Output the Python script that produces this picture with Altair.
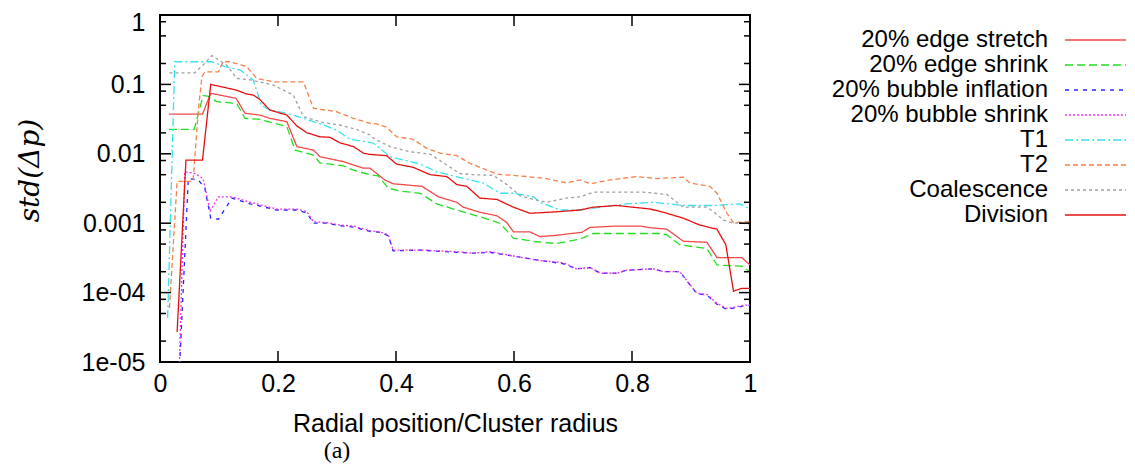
import altair as alt
import pandas as pd

SERIES = ["20% edge stretch", "20% edge shrink", "20% bubble inflation",
          "20% bubble shrink", "T1", "T2", "Coalescence", "Division"]
COLORS = ["#f24a4a", "#22dd22", "#2525ff", "#ee33ee", "#33e3ee", "#f7804a", "#a0a0a0", "#e41010"]
DASHES = [[1, 0], [8, 4], [4, 5], [2, 2], [8, 3, 2, 3], [5, 3], [3, 3], [1, 0]]

X_TICKS = [0, 0.2, 0.4, 0.6, 0.8, 1]
Y_TICKS = [1e-5, 1e-4, 1e-3, 1e-2, 1e-1, 1]
Y_TICK_LABELS = ["1e-05", "1e-04", "0.001", "0.01", "0.1", "1"]
Y_MINOR = [m * d for d in [1e-5, 1e-4, 1e-3, 1e-2, 1e-1] for m in (2, 5, 8)]
X_TITLE = "Radial position/Cluster radius"
Y_TITLE = "std(Δp)"

EDGE_STRETCH_X = [0.015, 0.072, 0.086, 0.129, 0.144, 0.169, 0.186, 0.215, 0.232, 0.260, 0.271, 0.311, 0.328,
                  0.345, 0.356, 0.381, 0.395, 0.444, 0.472, 0.503, 0.514, 0.542, 0.571, 0.588, 0.599, 0.627,
                  0.644, 0.672, 0.715, 0.729, 0.774, 0.814, 0.831, 0.859, 0.887, 0.927, 0.944, 0.986, 1.0]
EDGE_STRETCH_Y = [0.0374, 0.0374, 0.0744, 0.063, 0.0384, 0.0362, 0.0325, 0.029, 0.0127, 0.0113, 0.0091, 0.0077,
                  0.0069, 0.0062, 0.0062, 0.0042, 0.0037, 0.0034, 0.0024, 0.0020, 0.0017, 0.00144, 0.00128,
                  0.00102, 0.00075, 0.00075, 0.00064, 0.00067, 0.00074, 0.00087, 0.00091, 0.00091, 0.00086,
                  0.00082, 0.00055, 0.00053, 0.00032, 0.00032, 0.00025]

EDGE_SHRINK_X = [0.015, 0.058, 0.073, 0.081, 0.096, 0.130, 0.144, 0.169, 0.215, 0.229, 0.260, 0.271, 0.311,
                 0.328, 0.356, 0.370, 0.387, 0.407, 0.441, 0.469, 0.503, 0.542, 0.576, 0.599, 0.638, 0.672,
                 0.712, 0.734, 0.847, 0.859, 0.881, 0.927, 0.944, 0.986, 1.0]
EDGE_SHRINK_Y = [0.0225, 0.0225, 0.0687, 0.068, 0.0563, 0.0534, 0.0325, 0.0314, 0.0246, 0.0113, 0.0096, 0.0074,
                 0.0067, 0.0058, 0.0050, 0.0048, 0.0032, 0.0029, 0.0027, 0.0019, 0.00155, 0.00124, 0.001,
                 0.00061, 0.00054, 0.00051, 0.00059, 0.00071, 0.00071, 0.00068, 0.00049, 0.00043, 0.00025,
                 0.00024, 0.0002]

BUBBLE_INFL_X = [0.032, 0.048, 0.065, 0.076, 0.086, 0.099, 0.122, 0.153, 0.198, 0.232, 0.249, 0.260, 0.283,
                 0.305, 0.328, 0.356, 0.373, 0.387, 0.395, 0.441, 0.503, 0.531, 0.559, 0.605, 0.644, 0.684,
                 0.706, 0.729, 0.746, 0.774, 0.791, 0.836, 0.853, 0.881, 0.910, 0.927, 0.944, 0.961, 0.992, 1.0]
BUBBLE_INFL_Y = [5e-6, 0.0044, 0.0042, 0.0032, 0.00118, 0.00114, 0.0023, 0.0019, 0.00155, 0.00155, 0.0014,
                 0.001, 0.001, 0.00092, 0.00088, 0.00076, 0.00074, 0.00066, 0.0004, 0.00041, 0.00038, 0.00037,
                 0.00038, 0.00033, 0.00029, 0.00026, 0.00022, 0.00023, 0.00019, 0.00019, 0.00021, 0.00022,
                 0.0002, 0.0002, 0.000096, 0.000092, 0.000068, 0.000057, 0.000065, 0.000066]

BUBBLE_SHRINK_X = [0.032, 0.042, 0.059, 0.073, 0.085, 0.099, 0.122, 0.153, 0.198, 0.232, 0.249, 0.260, 0.283,
                   0.305, 0.328, 0.356, 0.373, 0.387, 0.395, 0.441, 0.503, 0.531, 0.559, 0.605, 0.644, 0.684,
                   0.706, 0.729, 0.746, 0.774, 0.791, 0.836, 0.853, 0.881, 0.910, 0.927, 0.944, 0.961, 0.992, 1.0]
BUBBLE_SHRINK_Y = [5e-6, 0.0055, 0.0052, 0.0044, 0.0015, 0.0024, 0.0024, 0.0020, 0.0016, 0.0016, 0.00147,
                   0.00105, 0.00102, 0.00094, 0.00091, 0.00078, 0.00075, 0.00068, 0.00041, 0.00041, 0.00039,
                   0.00037, 0.00039, 0.00033, 0.00029, 0.00027, 0.00022, 0.00023, 0.00019, 0.00019, 0.00021,
                   0.00022, 0.0002, 0.0002, 0.000098, 0.000094, 0.00007, 0.000059, 0.000066, 0.000066]

T1_X = [0.013, 0.025, 0.088, 0.110, 0.136, 0.158, 0.172, 0.186, 0.215, 0.243, 0.277, 0.299, 0.322, 0.350,
        0.362, 0.390, 0.441, 0.469, 0.497, 0.548, 0.576, 0.599, 0.633, 0.644, 0.678, 0.712, 0.746, 0.791,
        0.836, 0.864, 0.887, 0.938, 0.983, 1.0]
T1_Y = [4.3e-5, 0.212, 0.212, 0.18, 0.161, 0.116, 0.05, 0.0428, 0.0384, 0.0325, 0.026, 0.022, 0.0162, 0.0149,
        0.0142, 0.0091, 0.0071, 0.0055, 0.0048, 0.0038, 0.0027, 0.0027, 0.0024, 0.0020, 0.00155, 0.00155,
        0.0017, 0.0019, 0.002, 0.0019, 0.0018, 0.0018, 0.0019, 0.0016]

T2_X = [0.016, 0.029, 0.056, 0.065, 0.071, 0.076, 0.099, 0.107, 0.119, 0.147, 0.164, 0.192, 0.243, 0.260,
        0.299, 0.328, 0.356, 0.367, 0.384, 0.401, 0.429, 0.452, 0.475, 0.503, 0.525, 0.571, 0.622, 0.655,
        0.689, 0.712, 0.729, 0.763, 0.808, 0.842, 0.887, 0.898, 0.932, 0.944, 0.961, 0.972, 1.0]
T2_Y = [6e-5, 0.004, 0.004, 0.0428, 0.129, 0.152, 0.152, 0.212, 0.212, 0.18, 0.122, 0.109, 0.109, 0.0453,
        0.0404, 0.0325, 0.0275, 0.0269, 0.0241, 0.0176, 0.0162, 0.012, 0.0102, 0.0094, 0.0073, 0.0051, 0.0047,
        0.0044, 0.0038, 0.0042, 0.0037, 0.0042, 0.0047, 0.0044, 0.0046, 0.0038, 0.0034, 0.0027, 0.00139,
        0.00102, 0.00105]

COAL_X = [0.016, 0.059, 0.073, 0.088, 0.113, 0.130, 0.153, 0.192, 0.226, 0.243, 0.277, 0.305, 0.333, 0.356,
          0.362, 0.390, 0.424, 0.458, 0.486, 0.508, 0.531, 0.565, 0.588, 0.610, 0.633, 0.655, 0.689, 0.712,
          0.734, 0.819, 0.859, 0.876, 0.887, 0.927, 0.938, 0.955, 0.972, 0.997, 1.0]
COAL_Y = [0.147, 0.147, 0.19, 0.26, 0.19, 0.122, 0.116, 0.098, 0.0703, 0.0343, 0.0281, 0.026, 0.0225, 0.0187,
          0.0167, 0.0127, 0.0107, 0.0099, 0.0069, 0.0052, 0.005, 0.0049, 0.0036, 0.0025, 0.0022, 0.002, 0.0023,
          0.0024, 0.0028, 0.0028, 0.0026, 0.002, 0.0017, 0.0017, 0.00147, 0.00111, 0.001, 0.001, 0.00089]

DIV_X = [0.029, 0.044, 0.072, 0.086, 0.129, 0.147, 0.158, 0.169, 0.186, 0.215, 0.232, 0.249, 0.271, 0.288,
         0.305, 0.328, 0.345, 0.356, 0.384, 0.401, 0.429, 0.458, 0.486, 0.503, 0.520, 0.542, 0.571, 0.599,
         0.627, 0.678, 0.712, 0.734, 0.774, 0.831, 0.859, 0.887, 0.915, 0.944, 0.959, 0.972, 0.986, 1.0]
DIV_Y = [2.7e-5, 0.0081, 0.0081, 0.100, 0.083, 0.0727, 0.0703, 0.061, 0.0428, 0.0362, 0.0252, 0.0201, 0.0176,
         0.0173, 0.0144, 0.0127, 0.0102, 0.0098, 0.0094, 0.0071, 0.0064, 0.0050, 0.0047, 0.0036, 0.0034, 0.0023,
         0.0022, 0.0017, 0.00139, 0.00147, 0.00155, 0.0017, 0.0018, 0.0016, 0.00139, 0.00118, 0.00094, 0.00082,
         0.00049, 0.000105, 0.000115, 0.000115]

ALL_X = [EDGE_STRETCH_X, EDGE_SHRINK_X, BUBBLE_INFL_X, BUBBLE_SHRINK_X, T1_X, T2_X, COAL_X, DIV_X]
ALL_Y = [EDGE_STRETCH_Y, EDGE_SHRINK_Y, BUBBLE_INFL_Y, BUBBLE_SHRINK_Y, T1_Y, T2_Y, COAL_Y, DIV_Y]

frames = []
for name, xs, ys in zip(SERIES, ALL_X, ALL_Y):
    frames.append(pd.DataFrame({"series": name, "x": xs, "y": ys, "i": list(range(len(xs)))}))
df = pd.concat(frames, ignore_index=True)

SANS = "Liberation Sans"
FS = 25
LEG_FS = 24

xscale = alt.Scale(domain=[0, 1], nice=False, zero=False)
yscale = alt.Scale(type="log", domain=[1e-5, 1], nice=False)
color_scale = alt.Scale(domain=SERIES, range=COLORS)
dash_scale = alt.Scale(domain=SERIES, range=DASHES)

pairs = sorted(zip(Y_TICKS, Y_TICK_LABELS))
expr = "'%s'" % pairs[0][1]
for t, l in pairs[1:]:
    expr = "datum.value > %g ? '%s' : (%s)" % (t / 2, l, expr)

x_axis = alt.Axis(values=X_TICKS, format="~g", ticks=False, tickSize=0, domain=False, grid=False,
                  labelPadding=9, labelFont=SANS, labelFontSize=FS, labelColor="black", labelFlush=False,
                  title=X_TITLE, titleFont=SANS, titleFontSize=FS, titleFontWeight="normal",
                  titleColor="black", titlePadding=15)
y_axis = alt.Axis(values=Y_TICKS, labelExpr=expr, ticks=False, tickSize=0, domain=False, grid=False,
                  labelPadding=15, labelFont=SANS, labelFontSize=FS, labelColor="black", labelFlush=False,
                  labelOffset={"condition": {"test": "datum.value > 0.5", "value": 7}, "value": 0},
                  title=Y_TITLE, titleFont="DejaVu Serif", titleFontStyle="italic", titleFontSize=28,
                  titleFontWeight="normal", titleColor="black", titleAngle=270, titleX=-130, titleY=155,
                  titleAlign="center", titleBaseline="middle")

lines = alt.Chart(df).mark_line(clip=True, strokeWidth=1.3).encode(
    x=alt.X("x:Q", scale=xscale, axis=x_axis),
    y=alt.Y("y:Q", scale=yscale, axis=y_axis),
    color=alt.Color("series:N", scale=color_scale, legend=None),
    strokeDash=alt.StrokeDash("series:N", scale=dash_scale, legend=None),
    order=alt.Order("i:Q"),
)

xt_df = pd.DataFrame({"x": X_TICKS})
yt_df = pd.DataFrame({"y": Y_TICKS})
ym_df = pd.DataFrame({"y": Y_MINOR})
MAJ, MIN = 11, 6
W, H = 590, 347

def xtick(y0, y1):
    return alt.Chart(xt_df).mark_rule(color="black", strokeWidth=1.5).encode(
        x=alt.X("x:Q", scale=xscale), y=alt.value(y0), y2=alt.value(y1))

def ytick(data, x0, x1):
    return alt.Chart(data).mark_rule(color="black", strokeWidth=1.5).encode(
        y=alt.Y("y:Q", scale=yscale), x=alt.value(x0), x2=alt.value(x1))

plot = alt.layer(
    lines,
    xtick(H, H - MAJ), xtick(0, MAJ),
    ytick(yt_df, 0, MAJ), ytick(yt_df, W, W - MAJ),
    ytick(ym_df, 0, MIN), ytick(ym_df, W, W - MIN),
)

leg_df = pd.DataFrame({"series": SERIES})
leg_y = alt.Y("series:N", scale=alt.Scale(type="point", domain=SERIES, range=[25, 200], padding=0), axis=None)
leg_text = alt.Chart(leg_df).mark_text(align="right", baseline="middle", font=SANS, fontSize=LEG_FS,
                                       color="black").encode(y=leg_y, x=alt.value(888), text="series:N")
leg_line = alt.Chart(leg_df).mark_rule(strokeWidth=1.3).encode(
    y=leg_y, x=alt.value(905), x2=alt.value(966),
    color=alt.Color("series:N", scale=color_scale, legend=None),
    strokeDash=alt.StrokeDash("series:N", scale=dash_scale, legend=None),
)

chart = alt.layer(plot, leg_text, leg_line).resolve_scale(y="independent").properties(
    width=W, height=H,
    autosize=alt.AutoSizeParams(type="none"),
    padding={"left": 152, "top": 7, "right": 377, "bottom": 101},
    title=alt.TitleParams("(a)", orient="bottom", anchor="middle", dx=-118, font="Liberation Serif",
                          fontSize=24, fontWeight="normal", color="black", offset=3),
).configure_view(stroke="black", strokeWidth=2)

chart.save("out.html", embed_options={"renderer": "svg", "actions": False})
